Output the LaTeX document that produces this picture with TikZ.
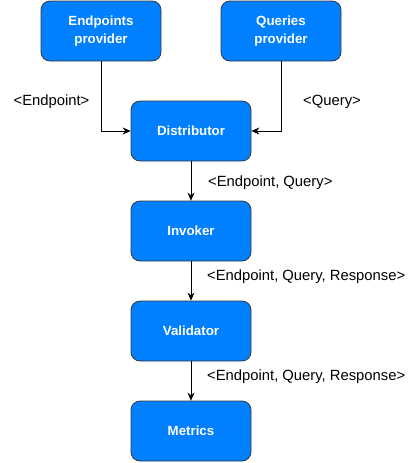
\documentclass[tikz,border=0pt]{standalone}
\usepackage{fontspec}
\setmainfont{Liberation Sans}
\usetikzlibrary{arrows.meta}
\definecolor{boxblue}{HTML}{007FFF}
\definecolor{boxline}{HTML}{36393D}
\begin{document}
\begin{tikzpicture}[x=1pt,y=-1pt,
  box/.style={draw=boxline,fill=boxblue,rounded corners=9pt,minimum width=120pt,minimum height=60pt,inner sep=0pt,
    text=white,font=\fontsize{13.3}{17.5}\selectfont\bfseries,align=center,line width=0.8pt},
  lbl/.style={font=\fontsize{14.8}{17}\selectfont,inner sep=0pt},
  conn/.style={draw=black,line width=0.8pt,-{Stealth[length=8pt,width=7pt]}}]
\useasboundingbox (0,0) rectangle (413,463);
\node[box] (ep) at (101,31) {Endpoints\\provider};
\node[box] (qp) at (281,31) {Queries\\provider};
\node[box] (dist) at (191,131) {Distributor};
\node[box] (inv) at (191,231) {Invoker};
\node[box] (val) at (191,331) {Validator};
\node[box] (met) at (191,431) {Metrics};
\draw[conn] (ep.south) |- (dist.west);
\draw[conn] (qp.south) |- (dist.east);
\draw[conn] (dist) -- (inv);
\draw[conn] (inv) -- (val);
\draw[conn] (val) -- (met);
\node[lbl] (l1) at (51.5,102) {<Endpoint>};
\node[lbl] (l2) at (332,102) {<Query>};
\node[lbl,anchor=west] (l3) at (208,183) {<Endpoint, Query>};
\node[lbl,anchor=west] (l4) at (207,277) {<Endpoint, Query, Response>};
\node[lbl,anchor=west] (l5) at (207,377) {<Endpoint, Query, Response>};
\end{tikzpicture}
\end{document}
